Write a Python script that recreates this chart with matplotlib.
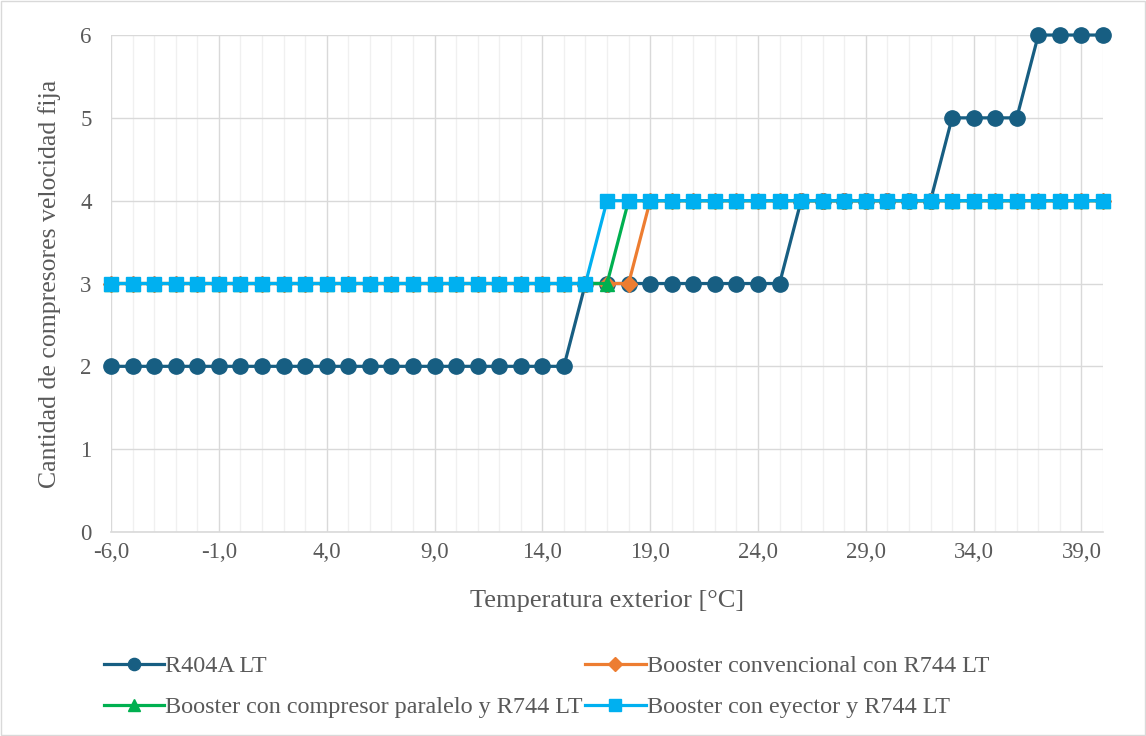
import numpy as np
import matplotlib.pyplot as plt
from matplotlib import ticker
from matplotlib.patches import Rectangle

plt.rcParams['font.family'] = ['Liberation Serif', 'DejaVu Serif']

# data
temps = np.arange(-6, 41)
r404a = [2] * 22 + [3] * 10 + [4] * 7 + [5] * 4 + [6] * 4
booster_conv = [3] * 25 + [4] * 22
booster_par = [3] * 24 + [4] * 23
booster_eye = [3] * 23 + [4] * 24

series = [
    ('R404A LT', r404a, '#175E82', 'o', 11),
    ('Booster convencional con R744 LT', booster_conv, '#ED7D31', 'D', 8.5),
    ('Booster con compresor paralelo y R744 LT', booster_par, '#00B050', '^', 10.5),
    ('Booster con eyector y R744 LT', booster_eye, '#00B0F0', 's', 10),
]

fig = plt.figure(figsize=(11.46, 7.36), dpi=100)
ax = fig.add_axes([0.0969, 0.2772, 0.8656, 0.6752])

lines = []
for name, vals, col, mk, ms in series:
    ln, = ax.plot(temps, vals, color=col, lw=2.3, marker=mk, markersize=ms,
                  label=name, zorder=3, clip_on=False)
    lines.append(ln)

ax.set_xlim(-6, 40)
ax.set_ylim(0, 6)
ax.xaxis.set_major_locator(ticker.FixedLocator(np.arange(-6, 41, 5)))
ax.xaxis.set_minor_locator(ticker.MultipleLocator(1))
ax.xaxis.set_major_formatter(ticker.FuncFormatter(lambda v, p: ('%.1f' % v).replace('.', ',')))
ax.yaxis.set_major_locator(ticker.MultipleLocator(1))

ax.grid(which='minor', axis='x', color='#F0F0F0', lw=1, zorder=0)
ax.grid(which='major', axis='both', color='#D9D9D9', lw=1, zorder=0)
ax.set_axisbelow(True)
for s in ['top', 'right', 'left']:
    ax.spines[s].set_visible(False)
ax.spines['bottom'].set_color('#D9D9D9')
ax.spines['bottom'].set_linewidth(1.2)
ax.tick_params(which='both', length=0, labelsize=16.5, colors='#595959')
ax.tick_params(axis='x', pad=7)
ax.tick_params(axis='y', pad=14)

ax.set_xlabel('Temperatura exterior [°C]', fontsize=19, color='#595959', labelpad=20)
ax.set_ylabel('Cantidad de compresores velocidad fija', fontsize=18.5, color='#595959', labelpad=14)

order = [0, 2, 1, 3]
fig.legend([lines[i] for i in order], [series[i][0] for i in order],
           loc='upper left', bbox_to_anchor=(0.082, 0.123), ncol=2, frameon=False,
           fontsize=17.4, labelcolor='#595959', handlelength=2.5, handletextpad=0.05,
           columnspacing=0.1, labelspacing=0.8, borderaxespad=0, markerscale=0.8)

fig.add_artist(Rectangle((0.001, 0.001), 0.998, 0.998, transform=fig.transFigure,
                         fill=False, edgecolor='#D9D9D9', lw=1))

plt.savefig('out.png', dpi=100)
